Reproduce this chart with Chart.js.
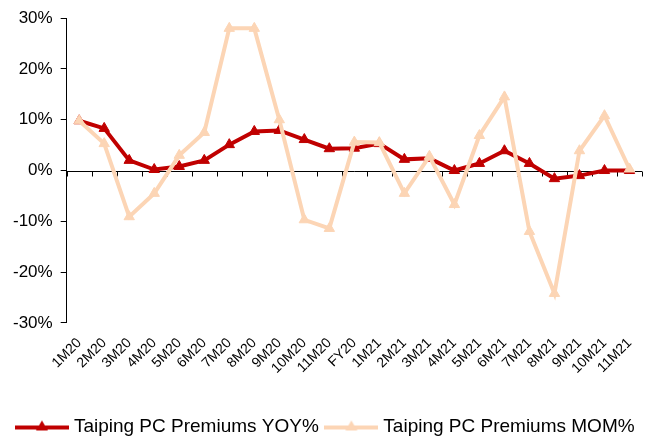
<!DOCTYPE html>
<html>
<head>
<meta charset="utf-8">
<script src="https://cdn.jsdelivr.net/npm/chart.js@4/dist/chart.umd.min.js"></script>
<style>
  html, body { margin: 0; padding: 0; background: #fff; }
  #wrap { width: 649px; height: 439px; }
</style>
</head>
<body>
<div id="wrap"><canvas id="myChart"></canvas></div>
<script>
const labels = ['1M20', '2M20', '3M20', '4M20', '5M20', '6M20', '7M20', '8M20', '9M20', '10M20', '11M20', 'FY20',
                '1M21', '2M21', '3M21', '4M21', '5M21', '6M21', '7M21', '8M21', '9M21', '10M21', '11M21'];
const yoy = [9.8, 8.3, 2.0, 0.2, 0.8, 2.0, 5.1, 7.7, 7.9, 6.1, 4.3, 4.4,
             5.3, 2.2, 2.4, 0.0, 1.4, 3.9, 1.4, -1.6, -1.0, 0.0, 0.0];
const mom = [9.8, 5.3, -9.1, -4.5, 3.0, 7.5, 28.0, 28.0, 10.0, -9.7, -11.4, 5.6,
             5.5, -4.5, 2.8, -6.7, 6.9, 14.5, -12.0, -24.2, 3.9, 10.8, 0.3];
const yMin = -30, yMax = 30, yStep = 10;

const RED = '#C00000';
const PEACH = '#FCD5B5';
const FONT = 'Arial, "Liberation Sans", sans-serif';

function legendMarker(color) {
  const c = document.createElement('canvas');
  c.width = 54; c.height = 14;
  const ctx = c.getContext('2d');
  ctx.strokeStyle = color;
  ctx.lineWidth = 4;
  ctx.beginPath(); ctx.moveTo(0, 8); ctx.lineTo(54, 8); ctx.stroke();
  ctx.fillStyle = color;
  ctx.beginPath(); ctx.moveTo(27, 1); ctx.lineTo(33, 11); ctx.lineTo(21, 11); ctx.closePath(); ctx.fill();
  return c;
}

// zero line with tick marks between categories
const zeroAxis = {
  id: 'zeroAxis',
  beforeDatasetsDraw(chart) {
    const { ctx, chartArea, scales: { x, y } } = chart;
    const y0 = Math.round(y.getPixelForValue(0)) + 0.5;
    ctx.save();
    ctx.strokeStyle = '#000';
    ctx.lineWidth = 1;
    ctx.beginPath();
    ctx.moveTo(chartArea.left, y0);
    ctx.lineTo(chartArea.right, y0);
    const half = (x.getPixelForValue(1) - x.getPixelForValue(0)) / 2;
    for (let i = 0; i <= labels.length; i++) {
      const px = Math.round(x.getPixelForValue(i) - half) + 0.5;
      ctx.moveTo(px, y0);
      ctx.lineTo(px, y0 + 5);
    }
    ctx.stroke();
    ctx.restore();
  }
};

new Chart(document.getElementById('myChart'), {
  type: 'line',
  data: {
    labels: labels,
    datasets: [{
      label: 'Taiping PC Premiums YOY%',
      data: yoy,
      borderColor: RED,
      backgroundColor: RED,
      borderWidth: 4,
      pointStyle: 'triangle',
      pointRadius: 6,
      pointBorderWidth: 1,
      order: 1
    }, {
      label: 'Taiping PC Premiums MOM%',
      data: mom,
      borderColor: PEACH,
      backgroundColor: PEACH,
      borderWidth: 4,
      pointStyle: 'triangle',
      pointRadius: 6,
      pointBorderWidth: 1,
      order: 0
    }]
  },
  options: {
    responsive: true,
    maintainAspectRatio: false,
    animation: false,
    layout: { padding: { left: 5, right: 0, top: 11, bottom: -7 } },
    plugins: {
      tooltip: { enabled: false },
      legend: {
        position: 'bottom',
        labels: {
          color: '#000',
          font: { family: FONT, size: 19 },
          usePointStyle: true,
          pointStyleWidth: 45,
          padding: 10,
          generateLabels(chart) {
            return chart.data.datasets.map((ds, i) => ({
              text: ds.label,
              pointStyle: legendMarker(ds.borderColor),
              fillStyle: ds.borderColor,
              strokeStyle: ds.borderColor,
              lineWidth: 0,
              datasetIndex: i,
              hidden: false
            }));
          }
        }
      }
    },
    scales: {
      x: {
        offset: true,
        grid: { display: false },
        border: { display: false },
        afterFit(scale) { scale.height += 26; },
        ticks: {
          color: '#000',
          font: { family: FONT, size: 14 },
          minRotation: 45,
          maxRotation: 45,
          autoSkip: false,
          padding: 4
        }
      },
      y: {
        min: yMin,
        max: yMax,
        border: { display: true, color: '#000', width: 1 },
        grid: { drawOnChartArea: false, color: '#000', tickLength: 6 },
        ticks: {
          stepSize: yStep,
          color: '#000',
          font: { family: FONT, size: 17 },
          padding: 8,
          callback: v => v + '%'
        }
      }
    }
  },
  plugins: [zeroAxis]
});
</script>
</body>
</html>
